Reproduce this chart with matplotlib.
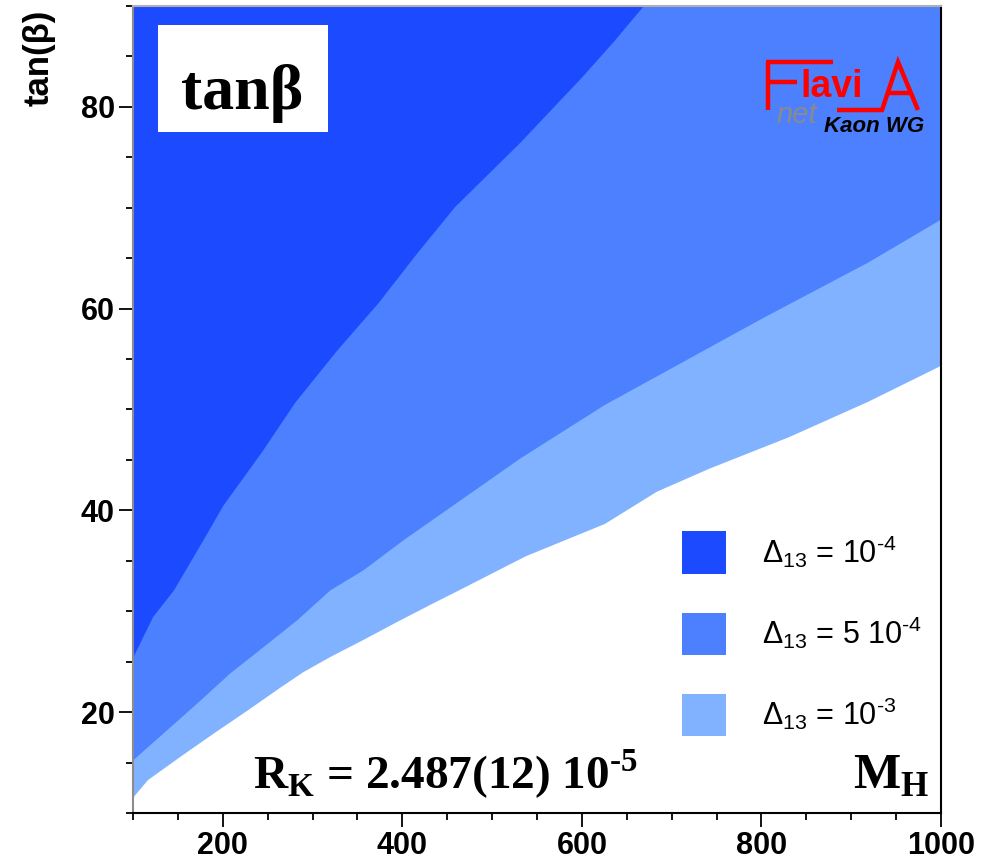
import matplotlib
matplotlib.use("Agg")
import matplotlib.pyplot as plt
from matplotlib.patches import Rectangle
from matplotlib.ticker import MultipleLocator

plt.rcParams['mathtext.fontset'] = 'custom'
plt.rcParams['mathtext.bf'] = 'Liberation Serif:bold'
plt.rcParams['mathtext.sf'] = 'Liberation Sans'

# lower edges of the allowed (tan beta, M_H) regions, upper edge is the plot top
mh_1e4 = [100, 122, 145, 178, 200, 243, 280, 327, 373, 415, 458, 531, 600, 635, 669]
tb_1e4 = [25.5, 29.5, 32.1, 37.1, 40.5, 45.8, 50.7, 55.9, 60.6, 65.4, 70.1, 76.5, 83.0, 86.5, 90.1]

mh_5e4 = [100, 133, 171, 208, 245, 283, 319, 356, 401, 531, 625, 713, 801, 918, 1000]
tb_5e4 = [15.3, 17.9, 20.9, 23.9, 26.5, 29.2, 32.1, 34.1, 37.1, 45.2, 50.5, 54.8, 59.1, 64.6, 68.9]

mh_1e3 = [100, 116, 152, 189, 227, 264, 289, 319, 356, 394, 431, 460, 537, 625, 683, 742, 830, 918, 1000]
tb_1e3 = [11.6, 13.3, 15.6, 17.9, 20.2, 22.5, 24.0, 25.5, 27.2, 29.0, 30.7, 32.0, 35.5, 38.7, 41.9, 44.2, 47.3, 50.8, 54.4]

labels = ['Δ$_{\\mathsf{13}}$ = 10$^{\\mathsf{\u20104}}$',
          'Δ$_{\\mathsf{13}}$ = 5 10$^{\\mathsf{\u20104}}$',
          'Δ$_{\\mathsf{13}}$ = 10$^{\\mathsf{\u20103}}$']
colors = ['#1c4bff', '#4c80ff', '#80b2ff']

x_ticks = [200, 400, 600, 800, 1000]
y_ticks = [20, 40, 60, 80]
y_top = 90

fig = plt.figure(figsize=(9.94, 8.6), dpi=100)
ax = fig.add_axes([0.1338, 0.0547, 0.8129, 0.9383])

h3 = ax.fill_between(mh_1e3, tb_1e3, y_top, color=colors[2], lw=0, label=labels[2])
h2 = ax.fill_between(mh_5e4, tb_5e4, y_top, color=colors[1], lw=0, label=labels[1])
h1 = ax.fill_between(mh_1e4, tb_1e4, y_top, color=colors[0], lw=0, label=labels[0])

ax.set_xlim(100, 1000)
ax.set_ylim(10, 90)
ax.set_xticks(x_ticks)
ax.set_yticks(y_ticks)
ax.xaxis.set_minor_locator(MultipleLocator(50))
ax.yaxis.set_minor_locator(MultipleLocator(5))
ax.tick_params(which='major', direction='out', length=10, width=1.3, pad=3,
               labelsize=22)
ax.tick_params(which='minor', direction='out', length=5, width=1.3)
for lab in ax.get_xticklabels() + ax.get_yticklabels():
    lab.set_fontfamily('Liberation Sans')
    lab.set_fontweight('bold')

ax.spines['left'].set_color('#8c8c8c')
ax.spines['top'].set_color('#b0b0b0')
ax.spines['right'].set_color('black')
ax.spines['bottom'].set_color('black')
for s in ax.spines.values():
    s.set_linewidth(1.5)

ax.set_ylabel('tan(β)', family='Liberation Sans', weight='bold', fontsize=25, loc='top')
ax.yaxis.set_label_coords(-0.0955, 0.995)

# title box
ax.add_patch(Rectangle((0.031, 0.844), 0.2103, 0.1325, transform=ax.transAxes,
                       facecolor='white', edgecolor='none', zorder=3))
ax.text(0.1355, 0.8724, 'tanβ', transform=ax.transAxes, ha='center', va='baseline',
        family='Liberation Serif', weight='bold', fontsize=46, zorder=4)

ax.text(0.1485, 0.0297, 'R$_{\\mathbf{K}}$ = 2.487(12) 10$^{\\mathbf{\u20105}}$',
        transform=ax.transAxes, ha='left', va='baseline',
        family='Liberation Serif', weight='bold', fontsize=34)
ax.text(0.986, 0.0297, 'M$_{\\mathbf{H}}$', transform=ax.transAxes, ha='right',
        va='baseline', family='Liberation Serif', weight='bold', fontsize=36)

ax.legend(handles=[h1, h2, h3], loc='upper left', bbox_to_anchor=(0.679, 0.349),
          frameon=False, prop={'family': 'Liberation Sans', 'size': 22},
          handlelength=1.44, handleheight=1.76, handletextpad=1.2,
          labelspacing=1.27, borderpad=0, borderaxespad=0)

# FlaviA net logo
def px(x, y):
    return (x - 133) / 808, (813 - y) / 807

logo = dict(color='red', lw=3.2, transform=ax.transAxes, clip_on=False,
            solid_capstyle='butt', solid_joinstyle='miter')
for seg in [[(768, 62), (768, 110)], [(766, 62), (833, 62)], [(768, 82), (797, 82)],
            [(837, 110), (882, 110), (898, 62), (918, 110)], [(888, 93), (911, 93)]]:
    pts = [px(*p) for p in seg]
    ax.plot([p[0] for p in pts], [p[1] for p in pts], **logo)
ax.text(*px(800, 97), 'lavi', transform=ax.transAxes, color='red',
        family='Liberation Sans', weight='bold', fontsize=27, va='baseline')
ax.text(*px(777, 123), 'net', transform=ax.transAxes, color='#8a8a8a',
        family='Liberation Sans', style='italic', fontsize=21, va='baseline')
ax.text(*px(824, 132), 'Kaon WG', transform=ax.transAxes, color='black',
        family='Liberation Sans', style='italic', weight='bold', fontsize=16,
        va='baseline')

fig.savefig('out.png', dpi=100)
